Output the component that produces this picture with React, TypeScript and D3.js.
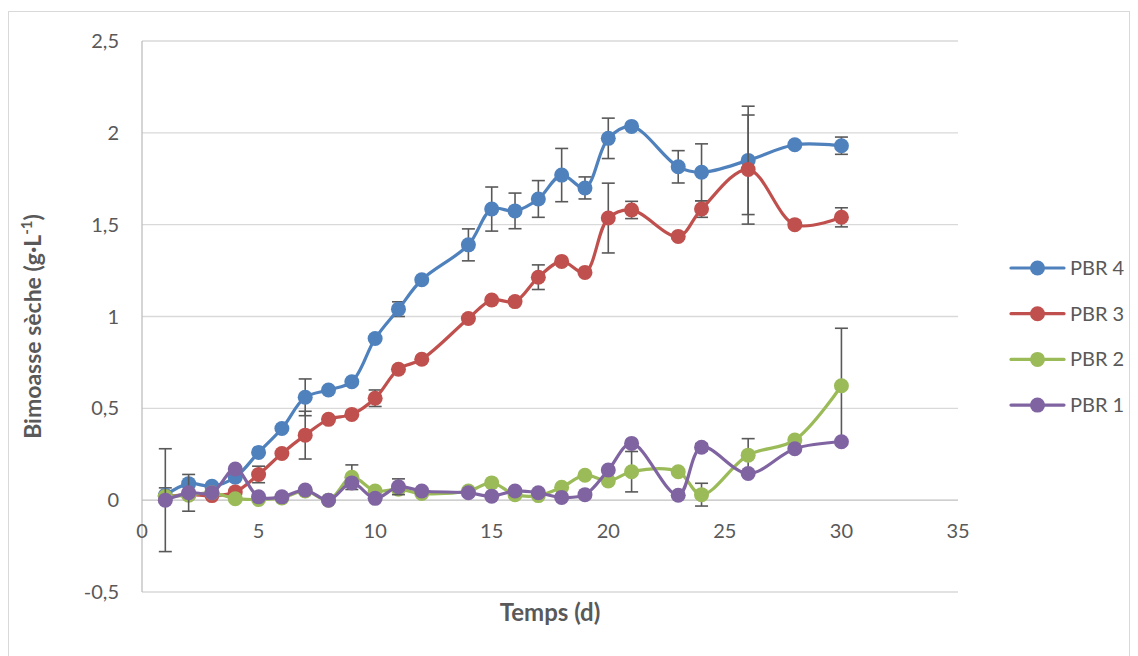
import React from "react";
import * as d3 from "d3";

// Culture days (d)
const days = [1, 2, 3, 4, 5, 6, 7, 8, 9, 10, 11, 12, 14, 15, 16, 17, 18, 19, 20, 21, 23, 24, 26, 28, 30];

// Dry biomass (g·L-1) per photobioreactor
const pbr4 = [0.027, 0.09, 0.076, 0.125, 0.26, 0.39, 0.56, 0.6, 0.645, 0.88, 1.04, 1.2, 1.39, 1.585, 1.575, 1.64, 1.77, 1.7, 1.97, 2.035, 1.815, 1.785, 1.85, 1.935, 1.93];
const pbr3 = [0.018, 0.03, 0.025, 0.045, 0.14, 0.254, 0.354, 0.44, 0.467, 0.555, 0.713, 0.767, 0.989, 1.09, 1.081, 1.214, 1.3, 1.24, 1.536, 1.58, 1.436, 1.585, 1.8, 1.5, 1.54];
const pbr2 = [0.02, 0.027, 0.04, 0.008, 0.004, 0.012, 0.05, 0.0, 0.125, 0.05, 0.06, 0.036, 0.05, 0.094, 0.03, 0.025, 0.07, 0.136, 0.105, 0.155, 0.155, 0.03, 0.245, 0.327, 0.623];
const pbr1 = [0.0, 0.04, 0.04, 0.17, 0.018, 0.018, 0.055, 0.0, 0.094, 0.01, 0.073, 0.05, 0.04, 0.022, 0.05, 0.04, 0.015, 0.03, 0.164, 0.309, 0.027, 0.288, 0.145, 0.28, 0.318];

// Standard deviations (0 = no error bar)
const err4 = [0.04, 0, 0, 0, 0, 0, 0.1, 0, 0, 0, 0.04, 0, 0.087, 0.12, 0.097, 0.1, 0.145, 0.06, 0.11, 0, 0.088, 0.155, 0.295, 0, 0.047];
const err3 = [0, 0, 0, 0, 0.045, 0, 0.13, 0, 0, 0.045, 0, 0, 0, 0, 0, 0.067, 0, 0, 0.19, 0.047, 0.015, 0.045, 0.297, 0, 0.052];
const err2 = [0, 0, 0, 0, 0, 0, 0, 0, 0.067, 0, 0, 0, 0, 0, 0, 0, 0, 0, 0, 0.11, 0, 0.062, 0.09, 0, 0.313];
const err1 = [0.28, 0.1, 0, 0, 0, 0, 0, 0, 0, 0, 0.043, 0, 0, 0, 0, 0, 0, 0, 0, 0, 0, 0.02, 0, 0, 0];

const seriesNames = ["PBR 4", "PBR 3", "PBR 2", "PBR 1"];
const seriesValues = [pbr4, pbr3, pbr2, pbr1];
const seriesErrors = [err4, err3, err2, err1];
const seriesColors = ["#4F81BD", "#C0504D", "#9BBB59", "#8064A2"];

const xTicks = [0, 5, 10, 15, 20, 25, 30, 35];
const yTicks = [-0.5, 0, 0.5, 1, 1.5, 2, 2.5];

const W = 1138;
const H = 656;
const FONT = "Lato, 'Open Sans', sans-serif";
const TEXT = "#595959";

export default function App() {
  const x = d3.scaleLinear().domain([0, 35]).range([142, 958]);
  const y = d3.scaleLinear().domain([-0.5, 2.5]).range([592, 41]);
  const fmt = (v: number) => String(v).replace(".", ",");

  const line = d3
    .line<[number, number]>()
    .x((d) => x(d[0]))
    .y((d) => y(d[1]))
    .curve(d3.curveCatmullRom.alpha(0.5));

  const capW = 6.5;
  const yMid = (y(2.5) + y(-0.5)) / 2;

  return (
    <svg width={W} height={H} style={{ position: "absolute", left: 0, top: 0, display: "block" }}>
      <rect x={0} y={0} width={W} height={H} fill="#fff" />
      <rect x={8.5} y={11.5} width={1121} height={700} fill="#fff" stroke="#D9D9D9" strokeWidth={1} />

      {/* gridlines */}
      {yTicks.map((t) => (
        <line key={"g" + t} x1={x(0)} x2={x(35)} y1={y(t)} y2={y(t)} stroke={t === 0 ? "#BFBFBF" : "#D9D9D9"} strokeWidth={1.3} />
      ))}
      <line x1={x(0)} x2={x(0)} y1={y(2.5)} y2={y(-0.5)} stroke="#BFBFBF" strokeWidth={1.3} />

      {/* y tick labels */}
      {yTicks.map((t) => (
        <text key={"yl" + t} x={119} y={y(t)} dy="0.35em" textAnchor="end" fontFamily={FONT} fontSize={20} fill={TEXT}>
          {fmt(t)}
        </text>
      ))}
      {/* x tick labels */}
      {xTicks.map((t) => (
        <text key={"xl" + t} x={x(t)} y={y(0) + 31} dy="0.35em" textAnchor="middle" fontFamily={FONT} fontSize={20} fill={TEXT}>
          {t}
        </text>
      ))}

      {/* axis titles */}
      <text x={x(17.5)} y={613} dy="0.35em" textAnchor="middle" fontFamily={FONT} fontSize={24} fontWeight="bold" fill={TEXT}>
        Temps (d)
      </text>
      <text
        transform={`translate(33,${yMid + 10}) rotate(-90)`}
        textAnchor="middle"
        dy="0.35em"
        fontFamily={FONT}
        fontSize={23}
        fontWeight="bold"
        fill={TEXT}
      >
        Bimoasse sèche (g·L<tspan baselineShift="super" fontSize={15}>-1</tspan>)
      </text>

      {/* series: error bars, smoothed line, markers */}
      {seriesValues.map((vals, si) => {
        const pts: [number, number][] = days.map((d, i) => [d, vals[i]]);
        const errs = seriesErrors[si];
        const color = seriesColors[si];
        return (
          <g key={"s" + si}>
            {days.map((d, i) =>
              errs[i] > 0 ? (
                <g key={"e" + i} stroke="#595959" strokeWidth={1.6}>
                  <line x1={x(d)} x2={x(d)} y1={y(vals[i] + errs[i])} y2={y(vals[i] - errs[i])} />
                  <line x1={x(d) - capW} x2={x(d) + capW} y1={y(vals[i] + errs[i])} y2={y(vals[i] + errs[i])} />
                  <line x1={x(d) - capW} x2={x(d) + capW} y1={y(vals[i] - errs[i])} y2={y(vals[i] - errs[i])} />
                </g>
              ) : null
            )}
            <path d={line(pts) || ""} fill="none" stroke={color} strokeWidth={3.2} strokeLinejoin="round" strokeLinecap="round" />
            {pts.map((p, i) => (
              <circle key={"c" + i} cx={x(p[0])} cy={y(p[1])} r={7.5} fill={color} />
            ))}
          </g>
        );
      })}

      {/* legend */}
      {seriesNames.map((name, i) => {
        const ly = 268 + i * 45.7;
        return (
          <g key={"lg" + i}>
            <line x1={1011} x2={1064} y1={ly} y2={ly} stroke={seriesColors[i]} strokeWidth={3.2} strokeLinecap="round" />
            <circle cx={1037.5} cy={ly} r={7.5} fill={seriesColors[i]} />
            <text x={1070} y={ly} dy="0.35em" fontFamily={FONT} fontSize={20} fill={TEXT}>
              {name}
            </text>
          </g>
        );
      })}
    </svg>
  );
}
